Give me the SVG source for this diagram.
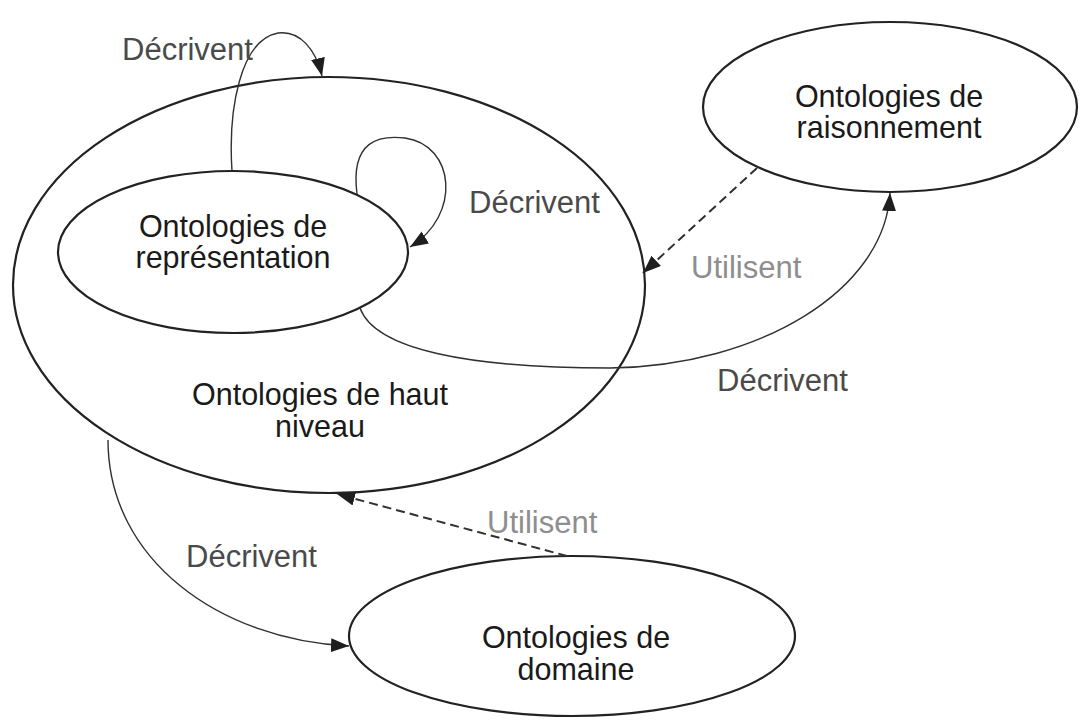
<svg xmlns="http://www.w3.org/2000/svg" width="1086" height="720" viewBox="0 0 1086 720">
  <style>
    .node { fill: none; stroke: #222222; stroke-width: 2.2; }
    .ntext { font-family: "Liberation Sans", Arial, sans-serif; font-size: 30.5px; fill: #1a1a1a; text-anchor: middle; }
    .lbl { font-family: "Liberation Sans", Arial, sans-serif; font-size: 31px; fill: #4a4a4a; }
    .lbl-light { font-family: "Liberation Sans", Arial, sans-serif; font-size: 31px; fill: #8e8e8e; }
    .link { fill: none; stroke: #303030; stroke-width: 1.4; marker-end: url(#arrow); }
    .uses { fill: none; stroke: #303030; stroke-width: 2; stroke-dasharray: 9 5; marker-end: url(#arrow); }
  </style>
  <defs>
    <marker id="arrow" markerUnits="userSpaceOnUse" markerWidth="20" markerHeight="16" refX="18" refY="7" orient="auto">
      <path d="M0,0 L18,7 L0,14 Z" fill="#1e1e1e"/>
    </marker>
  </defs>
  <rect width="1086" height="720" fill="#ffffff"/>

  <!-- nodes: ellipse plus a two-line caption -->
  <g id="haut-niveau">
    <ellipse class="node" cx="329" cy="285" rx="316" ry="208"/>
    <text class="ntext" x="320" y="405"><tspan x="320">Ontologies de haut</tspan><tspan x="320" dy="32">niveau</tspan></text>
  </g>
  <g id="representation">
    <ellipse class="node" cx="233" cy="252" rx="175" ry="81"/>
    <text class="ntext" x="233" y="237"><tspan x="233">Ontologies de</tspan><tspan x="233" dy="31">représentation</tspan></text>
  </g>
  <g id="raisonnement">
    <ellipse class="node" cx="890" cy="107" rx="187" ry="85"/>
    <text class="ntext" x="889" y="107"><tspan x="889">Ontologies de</tspan><tspan x="889" dy="31">raisonnement</tspan></text>
  </g>
  <g id="domaine">
    <ellipse class="node" cx="572" cy="636" rx="223" ry="80"/>
    <text class="ntext" x="576" y="648"><tspan x="576">Ontologies de</tspan><tspan x="576" dy="32">domaine</tspan></text>
  </g>

  <!-- connectors -->
  <g id="connectors">
    <path class="link" d="M232,171 C228,110 240,40 278,33 C300,30 316,50 322,76"/>
    <path class="link" d="M357,194 C350,140 380,135 405,138 C455,145 462,215 410,247"/>
    <path class="link" d="M360,308 C375,350 470,368 610,368 C760,366 885,290 890,193"/>
    <path class="link" d="M108,440 C108,560 220,640 349,646"/>
    <path class="uses" d="M757,168 L643,273"/>
    <path class="uses" d="M567,556 L337,494"/>
  </g>

  <!-- connector labels -->
  <g id="labels">
    <text class="lbl" x="122" y="60">Décrivent</text>
    <text class="lbl" x="469" y="213">Décrivent</text>
    <text class="lbl-light" x="691" y="278">Utilisent</text>
    <text class="lbl" x="717" y="391">Décrivent</text>
    <text class="lbl-light" x="487" y="533">Utilisent</text>
    <text class="lbl" x="186" y="567">Décrivent</text>
  </g>
</svg>
